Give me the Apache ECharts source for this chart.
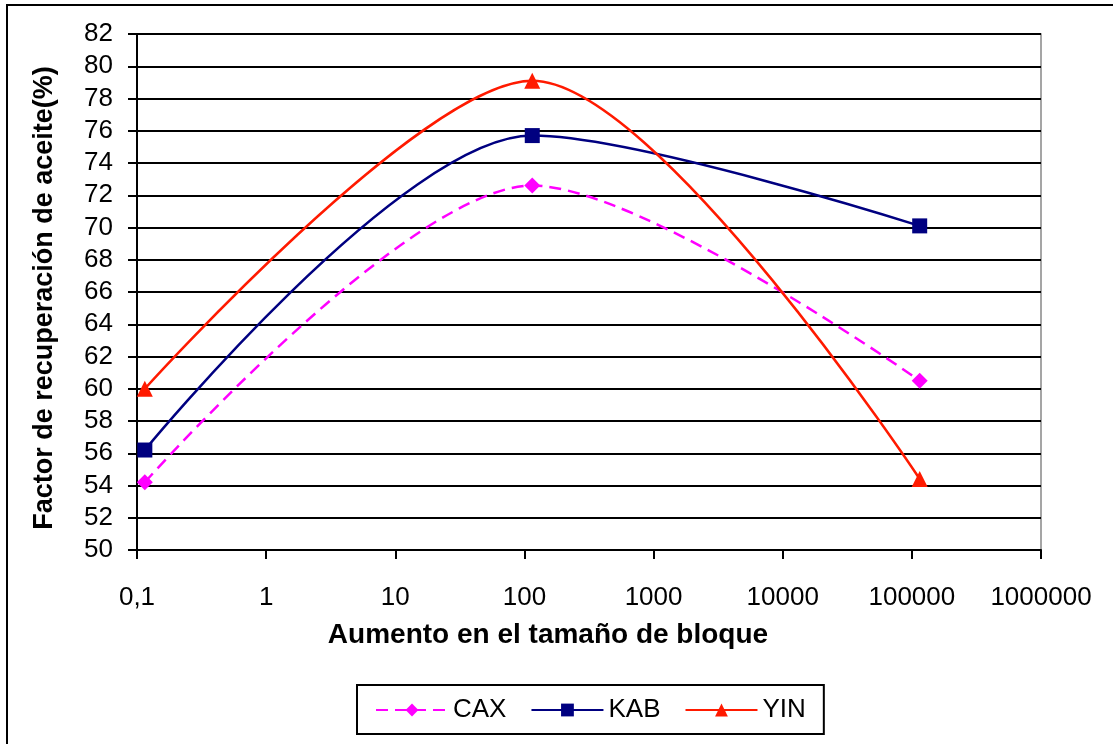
<!DOCTYPE html>
<html><head><meta charset="utf-8">
<script src="https://cdn.jsdelivr.net/npm/echarts@6/dist/echarts.min.js"></script>
<style>html,body{margin:0;padding:0;background:#fff}#c{width:1113px;height:744px}</style>
</head><body><div id="c"></div>
<script>
const xValues = [0.115, 115, 115000];
const cax = [54.2, 72.6, 60.5];
const kab = [56.2, 75.7, 70.1];
const yin = [60.0, 79.1, 54.4];
const seriesNames = ['CAX', 'KAB', 'YIN'];
const xTitle = 'Aumento en el tamaño de bloque';
const yTitle = 'Factor de recuperación de aceite(%)';

function pairs(ys){ return xValues.map((x,i)=>[x, ys[i]]); }
const font = 'Liberation Sans, Arial, sans-serif';
const chart = echarts.init(document.getElementById('c'), null, {renderer:'canvas'});
chart.setOption({
  animation:false,
  backgroundColor:'#fff',
  graphic:[{type:'rect', shape:{x:7,y:5,width:1120,height:760}, style:{fill:'none', stroke:'#000', lineWidth:2}, z:-1}],
  grid:{left:137, right:1113-1041, top:34, bottom:744-550, containLabel:false,
        show:true, borderColor:'#888', borderWidth:1.5},
  xAxis:{type:'log', logBase:10, min:0.1, max:1000000,
    name:xTitle, nameLocation:'middle', nameGap:71,
    nameTextStyle:{fontFamily:font, fontSize:28, fontWeight:'bold', color:'#000', padding:[0,82,0,0]},
    axisLine:{show:true, lineStyle:{color:'#000', width:2}},
    axisTick:{show:true, length:9, lineStyle:{color:'#000', width:2}},
    axisLabel:{fontFamily:font, fontSize:26, color:'#000', margin:35,
      formatter:v=>String(v).replace('.', ',')},
    splitLine:{show:false}, minorTick:{show:false}},
  yAxis:{type:'value', min:50, max:82, interval:2,
    name:yTitle, nameLocation:'middle', nameGap:79, nameRotate:90,
    nameTextStyle:{fontFamily:font, fontSize:27, fontWeight:'bold', color:'#000', padding:[0,12,0,0]},
    axisLine:{show:true, lineStyle:{color:'#000', width:2}},
    axisTick:{show:true, length:9, lineStyle:{color:'#000', width:2}},
    axisLabel:{fontFamily:font, fontSize:26, color:'#000', margin:24},
    splitLine:{show:true, lineStyle:{color:'#000', width:2}}},
  legend:{show:true, top:685, left:357, itemGap:24, itemWidth:72, itemHeight:16,
    padding:[12,18,11,18],
    borderColor:'#000', borderWidth:2, backgroundColor:'#fff',
    textStyle:{fontFamily:font, fontSize:26, color:'#000'},
    data:seriesNames},
  series:[
    {name:'CAX', type:'line', smooth:0.3, data:pairs(cax), symbol:'diamond', symbolSize:16,
      lineStyle:{color:'#ff00ff', width:2.5, type:[12,7]}, itemStyle:{color:'#ff00ff'}, z:3},
    {name:'KAB', type:'line', smooth:0.3, data:pairs(kab), symbol:'rect', symbolSize:15,
      lineStyle:{color:'#000080', width:2.5}, itemStyle:{color:'#000080'}, z:4},
    {name:'YIN', type:'line', smooth:0.3, data:pairs(yin), symbol:'triangle', symbolSize:16,
      lineStyle:{color:'#ff1a00', width:2.5}, itemStyle:{color:'#ff1a00'}, z:5}
  ]
});
</script></body></html>
